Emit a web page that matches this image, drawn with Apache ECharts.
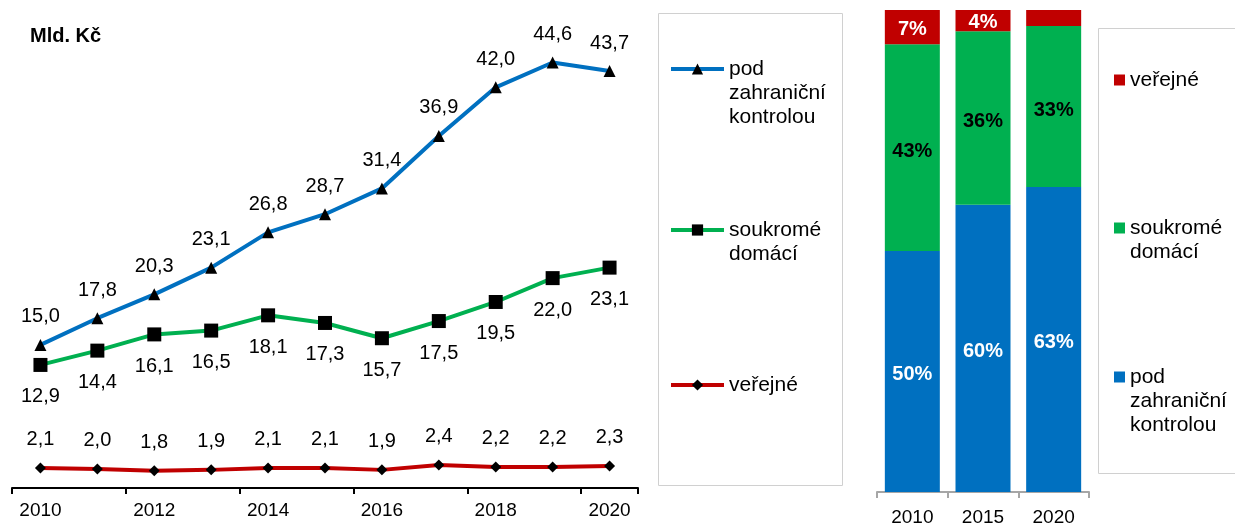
<!DOCTYPE html>
<html>
<head>
<meta charset="utf-8">
<script src="https://cdn.jsdelivr.net/npm/echarts@6/dist/echarts.min.js"></script>
<style>
  html, body { margin: 0; padding: 0; background: #fff; }
  #chart { width: 1235px; height: 527px; }
</style>
</head>
<body>
<div id="chart"></div>
<script>
// data
const years = ['2010','2011','2012','2013','2014','2015','2016','2017','2018','2019','2020'];
const podZahranicni = [15.0, 17.8, 20.3, 23.1, 26.8, 28.7, 31.4, 36.9, 42.0, 44.6, 43.7];
const soukromeDomaci = [12.9, 14.4, 16.1, 16.5, 18.1, 17.3, 15.7, 17.5, 19.5, 22.0, 23.1];
const verejne = [2.1, 2.0, 1.8, 1.9, 2.1, 2.1, 1.9, 2.4, 2.2, 2.2, 2.3];

const barYears = ['2010', '2015', '2020'];
const podPct = [50.0, 59.6, 63.3];
const soukPct = [42.9, 36.0, 33.4];
const verPct = [7.1, 4.4, 3.3];

const FONT = 'Liberation Sans';
const BLUE = '#0070C0', GREEN = '#00B050', RED = '#C00000';
const LH = 24; // legend line height

let myChart = echarts.init(document.getElementById('chart'));

const fmt1 = p => p.value.toFixed(1).replace('.', ',');
const fmtPct = p => p.value < 4 ? '' : Math.round(p.value) + '%';

// legend: prepend empty lines so the icon sits next to the first line of text
const legFmt = name => {
  const n = name.split('\n').length;
  return '\n'.repeat(n - 1) + name;
};
const legText = { fontSize: 21, color: '#000', lineHeight: LH };

const option = {
  animation: false,
  textStyle: { fontFamily: FONT },
  title: {
    text: 'Mld. Kč', left: 25, top: 21,
    textStyle: { fontFamily: FONT, fontSize: 20, fontWeight: 'bold', color: '#000' }
  },
  graphic: [
    { type: 'rect', shape: { x: 658.5, y: 13.5, width: 184, height: 472 },
      style: { fill: 'none', stroke: '#d0d0d0', lineWidth: 1 } },
    { type: 'rect', shape: { x: 1098.5, y: 28.5, width: 150, height: 445 },
      style: { fill: 'none', stroke: '#d0d0d0', lineWidth: 1 } }
  ],
  legend: [
    { data: ['pod\nzahraniční\nkontrolou'], left: 669, top: 9, padding: 0, itemWidth: 53, itemHeight: 14,
      lineStyle: { width: 4 }, formatter: legFmt, textStyle: legText },
    { data: ['soukromé\ndomácí'], left: 669, top: 194, padding: 0, itemWidth: 53, itemHeight: 14,
      lineStyle: { width: 4 }, formatter: legFmt, textStyle: legText },
    { data: ['veřejné'], left: 669, top: 373, padding: 0, itemWidth: 53, itemHeight: 14,
      lineStyle: { width: 4 }, formatter: legFmt, textStyle: legText },
    { data: ['veřejné '], left: 1114, top: 68, padding: 0, itemWidth: 11, itemHeight: 11, icon: 'rect',
      formatter: legFmt, textStyle: legText },
    { data: ['soukromé \ndomácí'], left: 1114, top: 192, padding: 0, itemWidth: 11, itemHeight: 11, icon: 'rect',
      formatter: legFmt, textStyle: legText },
    { data: ['pod \nzahraniční\nkontrolou'], left: 1114, top: 317, padding: 0, itemWidth: 11, itemHeight: 11, icon: 'rect',
      formatter: legFmt, textStyle: legText }
  ],
  grid: [
    { left: 12, right: 597, top: 11, bottom: 39 },
    { left: 877, width: 212, top: 10, bottom: 35 }
  ],
  xAxis: [
    { type: 'category', gridIndex: 0, data: years, boundaryGap: true,
      axisLine: { lineStyle: { color: '#000', width: 2 } },
      axisTick: { show: true, length: 6, lineStyle: { color: '#000', width: 2 } },
      axisLabel: { interval: 1, fontSize: 19, color: '#000', margin: 13 } },
    { type: 'category', gridIndex: 1, data: barYears,
      axisLine: { lineStyle: { color: '#a6a6a6', width: 2 } },
      axisTick: { show: true, length: 6, lineStyle: { color: '#a6a6a6', width: 2 } },
      axisLabel: { fontSize: 19, color: '#000', margin: 16 } }
  ],
  yAxis: [
    { type: 'value', gridIndex: 0, min: 0, max: 50, show: false },
    { type: 'value', gridIndex: 1, min: 0, max: 100, show: false }
  ],
  series: [
    { name: 'pod\nzahraniční\nkontrolou', type: 'line', data: podZahranicni,
      symbol: 'triangle', symbolSize: 12,
      lineStyle: { color: BLUE, width: 4 }, itemStyle: { color: '#000' },
      label: { show: true, position: 'top', distance: 12, fontSize: 20, color: '#000', formatter: fmt1 } },
    { name: 'soukromé\ndomácí', type: 'line', data: soukromeDomaci,
      symbol: 'rect', symbolSize: 14,
      lineStyle: { color: GREEN, width: 4 }, itemStyle: { color: '#000' },
      label: { show: true, position: 'bottom', distance: 15, fontSize: 20, color: '#000', formatter: fmt1 } },
    { name: 'veřejné', type: 'line', data: verejne,
      symbol: 'diamond', symbolSize: 11,
      lineStyle: { color: RED, width: 4 }, itemStyle: { color: '#000' },
      label: { show: true, position: 'top', distance: 13, fontSize: 20, color: '#000', formatter: fmt1 } },
    { name: 'pod \nzahraniční\nkontrolou', type: 'bar', xAxisIndex: 1, yAxisIndex: 1, stack: 'pct',
      data: podPct, barWidth: 55, itemStyle: { color: BLUE },
      label: { show: true, position: 'inside', offset: [0, 3], fontSize: 20, fontWeight: 'bold', color: '#fff', formatter: fmtPct } },
    { name: 'soukromé \ndomácí', type: 'bar', xAxisIndex: 1, yAxisIndex: 1, stack: 'pct',
      data: soukPct, barWidth: 55, itemStyle: { color: GREEN },
      label: { show: true, position: 'inside', offset: [0, 4], fontSize: 20, fontWeight: 'bold', color: '#000', formatter: fmtPct } },
    { name: 'veřejné ', type: 'bar', xAxisIndex: 1, yAxisIndex: 1, stack: 'pct',
      data: verPct, barWidth: 55, itemStyle: { color: RED },
      label: { show: true, position: 'inside', offset: [0, 2], fontSize: 20, fontWeight: 'bold', color: '#fff', formatter: fmtPct } }
  ]
};

myChart.setOption(option);
window.addEventListener('resize', function () { myChart.resize(); });
</script>
</body>
</html>
